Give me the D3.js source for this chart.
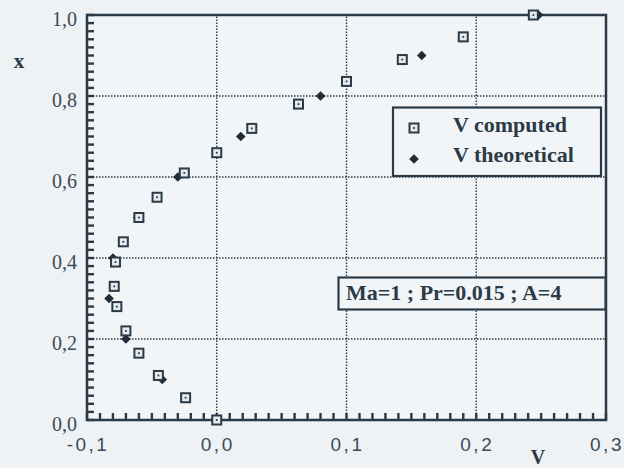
<!DOCTYPE html>
<html><head><meta charset="utf-8">
<script src="https://cdn.jsdelivr.net/npm/d3@7"></script>
<style>
html,body{margin:0;padding:0;background:#eef2f5;}
svg{display:block;}
</style></head>
<body>
<svg id="c" width="624" height="468"></svg>
<script>
const computedV = [0.0, -0.024, -0.045, -0.06, -0.07, -0.077, -0.079, -0.078, -0.072, -0.06, -0.046, -0.025, 0.0, 0.027, 0.063, 0.1, 0.143, 0.19, 0.244];
const computedX = [0.0, 0.055, 0.11, 0.165, 0.22, 0.28, 0.33, 0.39, 0.44, 0.50, 0.55, 0.61, 0.66, 0.72, 0.78, 0.836, 0.89, 0.946, 1.0];
const theoV = [0.0, -0.042, -0.07, -0.083, -0.08, -0.061, -0.03, 0.0185, 0.08, 0.158, 0.248];
const theoX = [0.0, 0.1, 0.2, 0.3, 0.4, 0.5, 0.6, 0.7, 0.8, 0.9, 1.0];
const xTicks = [-0.1, 0.0, 0.1, 0.2, 0.3];
const yTicks = [0.0, 0.2, 0.4, 0.6, 0.8, 1.0];
const legendLabels = ["V computed", "V theoretical"];
const annotation = "Ma=1 ; Pr=0.015 ; A=4";

const ink = "#2b3a47";
const svg = d3.select("#c");
const x = d3.scaleLinear().domain([-0.1, 0.3]).range([87, 606]);
const y = d3.scaleLinear().domain([0, 1]).range([420, 15]);
const fmt = v => d3.format(".1f")(v).replace(".", ",").replace("\u2212", "-");

// plot background
svg.append("rect").attr("x", x(-0.1)).attr("y", y(1)).attr("width", x(0.3) - x(-0.1)).attr("height", y(0) - y(1)).attr("fill", "#f2f5f8");

// grid
const g = svg.append("g").attr("stroke", ink).attr("stroke-width", 1.4).attr("stroke-dasharray", "1.5,1.5");
[0.0, 0.1, 0.2].forEach(v => g.append("line").attr("x1", x(v)).attr("x2", x(v)).attr("y1", y(0)).attr("y2", y(1)));
[0.2, 0.4, 0.6, 0.8].forEach(v => g.append("line").attr("x1", x(-0.1)).attr("x2", x(0.3)).attr("y1", y(v)).attr("y2", y(v)));

// frame
svg.append("rect").attr("x", x(-0.1)).attr("y", y(1)).attr("width", x(0.3) - x(-0.1)).attr("height", y(0) - y(1))
  .attr("fill", "none").attr("stroke", ink).attr("stroke-width", 2.5);

// minor ticks (inward)
const xMinor = d3.range(0, 41).map(i => -0.1 + i * 0.01);
const yMinor = d3.range(0, 51).map(i => i * 0.02);
const tk = svg.append("g").attr("fill", ink);
tk.selectAll("rect.xm").data(xMinor).join("rect").attr("class", "xm")
  .attr("x", d => x(d) - 1.2).attr("y", y(0) - 7).attr("width", 2.4).attr("height", 7);
tk.selectAll("rect.ym").data(yMinor).join("rect").attr("class", "ym")
  .attr("x", x(-0.1)).attr("y", d => y(d) - 1.2).attr("width", 7).attr("height", 2.4);

// tick labels
xTicks.forEach(v => svg.append("text").attr("x", x(v) + 1).attr("y", 451).attr("text-anchor", "middle")
  .attr("font-family", "Liberation Sans, Arial, sans-serif").attr("font-size", 19).attr("letter-spacing", 2.5)
  .attr("fill", "#3a4a58").text(fmt(v)));
yTicks.forEach(v => svg.append("text").attr("x", 77).attr("y", y(v) + 11).attr("text-anchor", "end")
  .attr("font-family", "'Liberation Serif', 'Times New Roman', serif").attr("font-size", 20)
  .attr("fill", "#3a4a58").text(fmt(v)));

// axis titles
svg.append("text").attr("x", 19).attr("y", 68).attr("text-anchor", "middle").attr("font-family", "'Liberation Serif', serif")
  .attr("font-weight", "bold").attr("font-size", 21).attr("fill", ink).text("x");
svg.append("text").attr("x", 538).attr("y", 464).attr("text-anchor", "middle").attr("font-family", "'Liberation Serif', serif")
  .attr("font-weight", "bold").attr("font-size", 20).attr("fill", ink).text("V");

// markers
function square(sel, cx, cy) {
  sel.append("rect").attr("x", cx - 4.5).attr("y", cy - 4.5).attr("width", 9).attr("height", 9)
    .attr("fill", "#e6ebef").attr("stroke", ink).attr("stroke-width", 2);
  sel.append("rect").attr("x", cx - 0.9).attr("y", cy - 0.9).attr("width", 1.8).attr("height", 1.8).attr("fill", ink);
}
const diamond = d3.symbol().type(d3.symbolSquare).size(46);
function dia(sel, cx, cy) {
  sel.append("path").attr("d", diamond()).attr("transform", `translate(${cx},${cy}) rotate(45)`).attr("fill", "#1f2b36");
}
const pts = svg.append("g");
theoV.forEach((v, i) => dia(pts, x(v), y(theoX[i])));
computedV.forEach((v, i) => square(pts, x(v), y(computedX[i])));

// legend
const lg = svg.append("g");
lg.append("rect").attr("x", 393).attr("y", 107.5).attr("width", 208).attr("height", 68.5)
  .attr("fill", "#f2f5f8").attr("stroke", ink).attr("stroke-width", 2.2);
square(lg, 414, 128);
dia(lg, 414, 159);
legendLabels.forEach((t, i) => lg.append("text").attr("x", 453).attr("y", 131.5 + i * 30)
  .attr("font-family", "'Liberation Serif', 'Times New Roman', serif").attr("font-weight", "bold").attr("font-size", 22)
  .attr("fill", ink).text(t));

// annotation
const an = svg.append("g");
an.append("rect").attr("x", 338.5).attr("y", 277.5).attr("width", 267).attr("height", 32)
  .attr("fill", "#f2f5f8").attr("stroke", ink).attr("stroke-width", 2.2);
an.append("text").attr("x", 346).attr("y", 300).attr("font-family", "'Liberation Serif', 'Times New Roman', serif")
  .attr("font-weight", "bold").attr("font-size", 22).attr("fill", ink).text(annotation);
</script>
</body></html>
